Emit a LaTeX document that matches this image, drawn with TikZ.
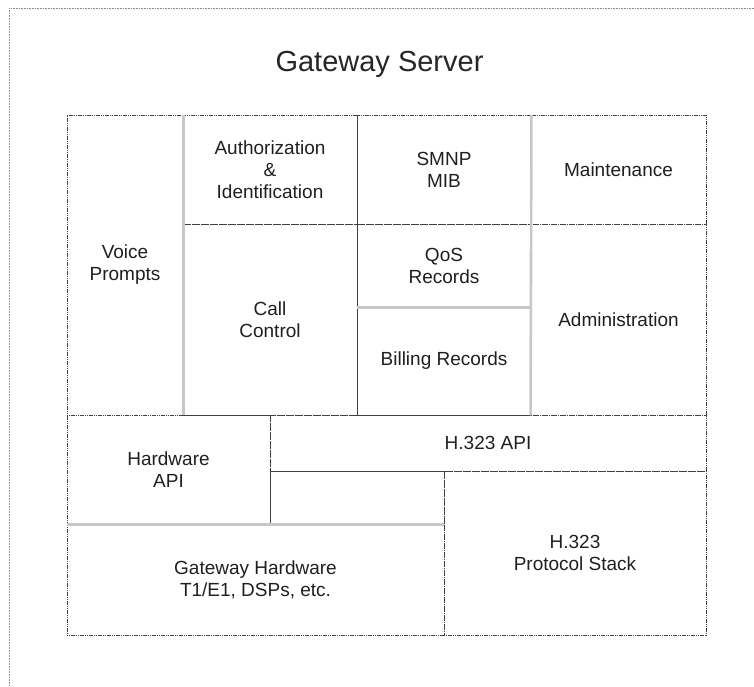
\documentclass[tikz,border=0pt]{standalone}
\usepackage{fontspec}
\setmainfont{Liberation Sans}
\begin{document}
\begin{tikzpicture}[x=1pt,y=-1pt,
  cell/.style={draw=black!75, line width=0.9pt, dash pattern=on 1.2pt off 0.6pt, rectangle, inner sep=0pt, align=center, font=\fontsize{19}{22}\selectfont, text=black!88},
  soft/.style={draw=black!22, line width=2.6pt},
  pageframe/.style={draw=black!45, line width=1pt, dash pattern=on 1pt off 0.6pt}]
\useasboundingbox (0,0) rectangle (754,686);
\coordinate (fb) at (9,686);
\coordinate (fc) at (9,8);
\coordinate (fr) at (754,8);
\draw[pageframe] (fb) -- (fc) -- (fr);
\node[anchor=base, font=\fontsize{29}{34}\selectfont, text=black!85] (title) at (379.5,71) {Gateway Server};
\node[cell, minimum width=116pt, minimum height=300pt] (voice) at (125,265) {Voice\\Prompts};
\node[cell, minimum width=174pt, minimum height=109pt] (auth) at (270,169.5) {Authorization\\\&\\Identification};
\node[cell, minimum width=174pt, minimum height=109pt] (smnp) at (444,169.5) {SMNP\\MIB};
\node[cell, minimum width=175pt, minimum height=109pt] (maint) at (618.5,169.5) {Maintenance};
\node[cell, minimum width=174pt, minimum height=191pt] (call) at (270,319.5) {Call\\Control};
\node[cell, minimum width=174pt, minimum height=83pt] (qos) at (444,265.5) {QoS\\Records};
\node[cell, minimum width=174pt, minimum height=108pt] (bill) at (444,361) {Billing Records};
\node[cell, minimum width=175pt, minimum height=191pt] (admin) at (618.5,319.5) {Administration};
\node[cell, minimum width=203pt, minimum height=110pt] (hwapi) at (168.5,470) {Hardware\\API};
\node[cell, minimum width=436pt, minimum height=56pt] (h323api) at (488,443) {H.323 API};
\node[cell, minimum width=174pt, minimum height=54pt] (empty) at (357,498) {};
\node[cell, minimum width=377pt, minimum height=110pt] (gwhw) at (255.5,580) {Gateway Hardware\\T1/E1, DSPs, etc.};
\node[cell, minimum width=262pt, minimum height=164pt] (stack) at (575,553) {H.323\\Protocol Stack};
\draw[soft] (voice.north east) -- (voice.south east);
\draw[soft] (smnp.north east) -- (admin.south west);
\draw[soft] (qos.south west) -- (qos.south east);
\draw[soft] (gwhw.north west) -- (gwhw.north east);
\end{tikzpicture}
\end{document}
